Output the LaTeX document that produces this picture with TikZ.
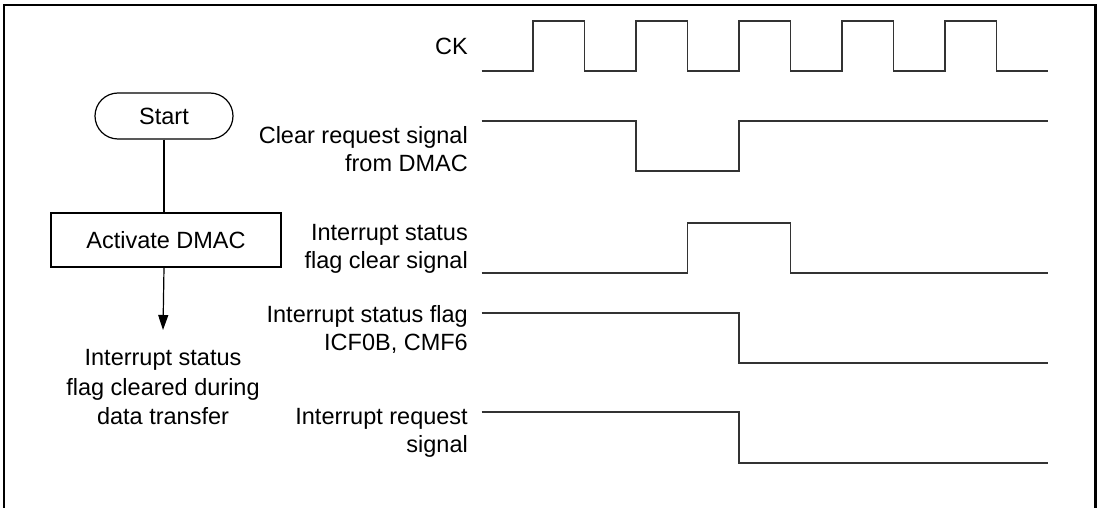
\documentclass[tikz,border=0pt]{standalone}
\usepackage{fontspec}
\setmainfont{Liberation Sans}
\usetikzlibrary{arrows.meta}

\begin{document}
\begin{tikzpicture}[x=1pt, y=-1pt,
  sig/.style={line width=1.3pt, black!80, line join=miter},
  lbl/.style={anchor=east, align=right, inner sep=0pt, font=\fontsize{23.5}{28}\selectfont},
  box/.style={draw, line width=1.2pt, inner sep=0pt, font=\fontsize{23.5}{28}\selectfont}]
\useasboundingbox (0,0) rectangle (1101,508);
% frame
\draw[line width=2.6pt] (4,508) -- (4,5) -- (1095.3,5) -- (1095.3,508);
% flow chart
\node[box, rounded corners=23pt, minimum width=138pt, minimum height=46pt] (start) at (164,116) {Start};
\node[box, minimum width=230pt, minimum height=54pt] (activate) at (166,240) {Activate DMAC};
\node[align=center, inner sep=0pt, font=\fontsize{23.5}{29.5}\selectfont] (cleared) at (163,387.5)
  {Interrupt status\\flag cleared during\\data transfer};
\coordinate (tip) at (163,330);
\draw[line width=1.2pt] (start.south) -- (start.south |- activate.north);
\draw[line width=1.2pt, -{Triangle[length=15pt, width=10pt]}] (activate.south -| start.south) -- (tip);
% signal names
\node[lbl] (ck) at (468,46) {CK};
\node[lbl] (clrreq) at (468,149) {Clear request signal\\from DMAC};
\node[lbl] (clrsig) at (468,248.5) {Interrupt status\\flag clear signal};
\node[lbl] (flag) at (468,329.5) {Interrupt status flag\\ICF0B, CMF6};
\node[lbl] (irq) at (468,433) {Interrupt request\\signal};
% waveforms
\draw[sig] (481.5,71) -- ++(51.5,0)
  foreach \k in {1,...,5} { -- ++(0,-50) -- ++(51.5,0) -- ++(0,50) -- ++(51.5,0) };
\draw[sig] (481.5,121) -- (636,121) -- (636,171) -- (739,171) -- (739,121) -- (1048,121);
\draw[sig] (481.5,273) -- (687.5,273) -- (687.5,223) -- (790.5,223) -- (790.5,273) -- (1048,273);
\draw[sig] (481.5,313) -- (739,313) -- (739,363) -- (1048,363);
\draw[sig] (481.5,412) -- (739,412) -- (739,463) -- (1048,463);
\end{tikzpicture}
\end{document}
